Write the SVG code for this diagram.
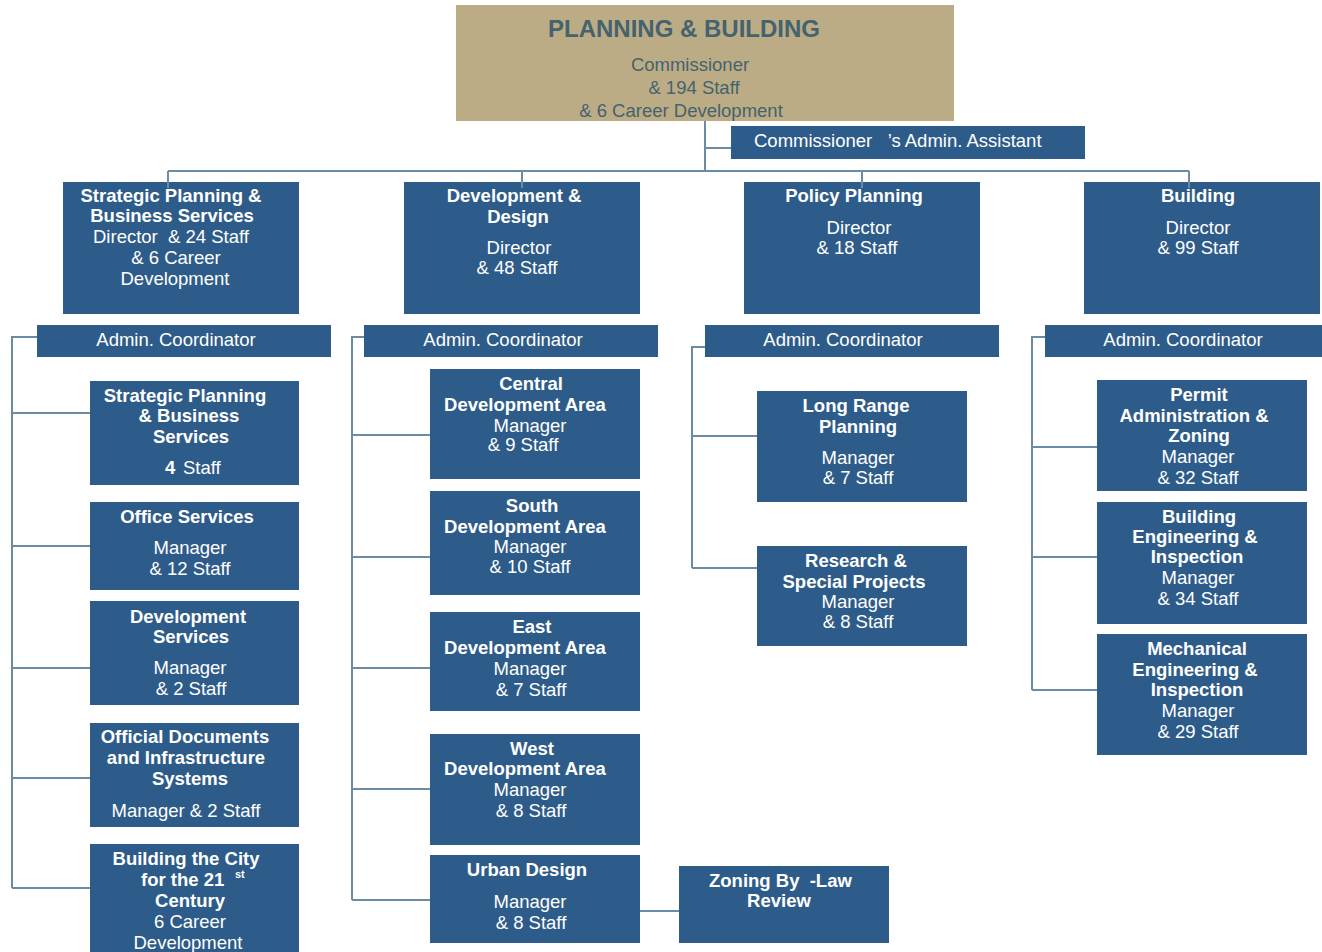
<svg xmlns="http://www.w3.org/2000/svg" width="1322" height="952" viewBox="0 0 1322 952">
<style>
.box{fill:#2E5C8A}
.top{fill:#BBAC85}
.t{font-family:"Liberation Sans",Arial,sans-serif;font-size:18.5px;fill:#ffffff;text-anchor:middle}
.s{text-anchor:start}
.b{font-weight:bold}
.h{fill:#45626F}
.c{fill:none;stroke:#6B8BA4;stroke-width:2}
</style>
<rect width="1322" height="952" fill="#ffffff"/>

<g id="commissioner">
<rect class="top" x="456" y="5" width="498" height="116"/>
<text class="t b h" x="684" y="37" font-size="24" style="font-size:24px">PLANNING &amp; BUILDING</text>
<text class="t h" x="690" y="71">Commissioner</text>
<text class="t h" x="694" y="94">&amp; 194 Staff</text>
<text class="t h" x="681" y="117">&amp; 6 Career Development</text>
</g>

<g id="admin-assistant">
<rect class="box" x="731" y="126" width="354" height="33"/>
<text class="t s" x="754" y="147" xml:space="preserve">Commissioner   ’s Admin. Assistant</text>
</g>

<g id="strategic-planning">
<rect class="box" x="63" y="182" width="236" height="132"/>
<text class="t b" x="171" y="202">Strategic Planning &amp;</text>
<text class="t b" x="172" y="222">Business Services</text>
<text class="t s" x="93" y="243" xml:space="preserve">Director  &amp; 24 Staff</text>
<text class="t" x="176" y="264">&amp; 6 Career</text>
<text class="t" x="175" y="285">Development</text>
</g>

<g id="development-design">
<rect class="box" x="404" y="182" width="236" height="132"/>
<text class="t b" x="514" y="202">Development &amp;</text>
<text class="t b" x="518" y="223">Design</text>
<text class="t" x="519" y="254">Director</text>
<text class="t" x="517" y="274">&amp; 48 Staff</text>
</g>

<g id="policy-planning">
<rect class="box" x="744" y="182" width="236" height="132"/>
<text class="t b" x="854" y="202">Policy Planning</text>
<text class="t" x="859" y="234">Director</text>
<text class="t" x="857" y="254">&amp; 18 Staff</text>
</g>

<g id="building">
<rect class="box" x="1084" y="182" width="236" height="132"/>
<text class="t b" x="1198" y="202">Building</text>
<text class="t" x="1198" y="234">Director</text>
<text class="t" x="1198" y="254">&amp; 99 Staff</text>
</g>

<g id="admin-a">
<rect class="box" x="37" y="325" width="294" height="32"/>
<text class="t" x="176" y="346">Admin. Coordinator</text>
</g>
<g id="admin-b">
<rect class="box" x="364" y="325" width="294" height="32"/>
<text class="t" x="503" y="346">Admin. Coordinator</text>
</g>
<g id="admin-c">
<rect class="box" x="705" y="325" width="294" height="32"/>
<text class="t" x="843" y="346">Admin. Coordinator</text>
</g>
<g id="admin-d">
<rect class="box" x="1045" y="325" width="277" height="32"/>
<text class="t" x="1183" y="346">Admin. Coordinator</text>
</g>

<g id="spbs">
<rect class="box" x="90" y="381" width="209" height="104"/>
<text class="t b" x="185" y="402">Strategic Planning</text>
<text class="t b" x="189" y="422">&amp; Business</text>
<text class="t b" x="191" y="443">Services</text>
<text class="t s" x="165" y="474"><tspan class="b">4</tspan><tspan x="183">Staff</tspan></text>
</g>

<g id="office-services">
<rect class="box" x="90" y="502" width="209" height="88"/>
<text class="t b" x="187" y="523">Office Services</text>
<text class="t" x="190" y="554">Manager</text>
<text class="t" x="190" y="575">&amp; 12 Staff</text>
</g>

<g id="development-services">
<rect class="box" x="90" y="601" width="209" height="104"/>
<text class="t b" x="188" y="623">Development</text>
<text class="t b" x="191" y="643">Services</text>
<text class="t" x="190" y="674">Manager</text>
<text class="t" x="191" y="695">&amp; 2 Staff</text>
</g>

<g id="official-documents">
<rect class="box" x="90" y="723" width="209" height="104"/>
<text class="t b" x="185" y="743">Official Documents</text>
<text class="t b" x="186" y="764">and Infrastructure</text>
<text class="t b" x="190" y="785">Systems</text>
<text class="t" x="186" y="817">Manager &amp; 2 Staff</text>
</g>

<g id="building-city">
<rect class="box" x="90" y="844" width="209" height="116"/>
<text class="t b" x="186" y="865">Building the City</text>
<text class="t b s" x="141" y="886">for the 21<tspan x="235" y="878" style="font-size:11px">st</tspan></text>
<text class="t b" x="190" y="907">Century</text>
<text class="t" x="190" y="928">6 Career</text>
<text class="t" x="188" y="949">Development</text>
</g>

<g id="central">
<rect class="box" x="430" y="369" width="210" height="110"/>
<text class="t b" x="531" y="390">Central</text>
<text class="t b" x="525" y="411">Development Area</text>
<text class="t" x="530" y="432">Manager</text>
<text class="t" x="523" y="451">&amp; 9 Staff</text>
</g>

<g id="south">
<rect class="box" x="430" y="491" width="210" height="104"/>
<text class="t b" x="532" y="512">South</text>
<text class="t b" x="525" y="533">Development Area</text>
<text class="t" x="530" y="553">Manager</text>
<text class="t" x="530" y="573">&amp; 10 Staff</text>
</g>

<g id="east">
<rect class="box" x="430" y="612" width="210" height="99"/>
<text class="t b" x="532" y="633">East</text>
<text class="t b" x="525" y="654">Development Area</text>
<text class="t" x="530" y="675">Manager</text>
<text class="t" x="531" y="696">&amp; 7 Staff</text>
</g>

<g id="west">
<rect class="box" x="430" y="734" width="210" height="111"/>
<text class="t b" x="532" y="755">West</text>
<text class="t b" x="525" y="775">Development Area</text>
<text class="t" x="530" y="796">Manager</text>
<text class="t" x="531" y="817">&amp; 8 Staff</text>
</g>

<g id="urban-design">
<rect class="box" x="430" y="855" width="210" height="88"/>
<text class="t b" x="527" y="876">Urban Design</text>
<text class="t" x="530" y="908">Manager</text>
<text class="t" x="531" y="929">&amp; 8 Staff</text>
</g>

<g id="zoning-bylaw">
<rect class="box" x="679" y="866" width="210" height="77"/>
<text class="t b s" x="709" y="887" xml:space="preserve">Zoning By  -Law</text>
<text class="t b" x="779" y="907">Review</text>
</g>

<g id="long-range">
<rect class="box" x="757" y="391" width="210" height="111"/>
<text class="t b" x="856" y="412">Long Range</text>
<text class="t b" x="858" y="433">Planning</text>
<text class="t" x="858" y="464">Manager</text>
<text class="t" x="858" y="484">&amp; 7 Staff</text>
</g>

<g id="research">
<rect class="box" x="757" y="546" width="210" height="100"/>
<text class="t b" x="856" y="567">Research &amp;</text>
<text class="t b" x="854" y="588">Special Projects</text>
<text class="t" x="858" y="608">Manager</text>
<text class="t" x="858" y="628">&amp; 8 Staff</text>
</g>

<g id="permit">
<rect class="box" x="1097" y="380" width="210" height="111"/>
<text class="t b" x="1199" y="401">Permit</text>
<text class="t b" x="1194" y="422">Administration &amp;</text>
<text class="t b" x="1199" y="442">Zoning</text>
<text class="t" x="1198" y="463">Manager</text>
<text class="t" x="1198" y="484">&amp; 32 Staff</text>
</g>

<g id="building-engineering">
<rect class="box" x="1097" y="502" width="210" height="122"/>
<text class="t b" x="1199" y="523">Building</text>
<text class="t b" x="1195" y="543">Engineering &amp;</text>
<text class="t b" x="1197" y="563">Inspection</text>
<text class="t" x="1198" y="584">Manager</text>
<text class="t" x="1198" y="605">&amp; 34 Staff</text>
</g>

<g id="mechanical">
<rect class="box" x="1097" y="634" width="210" height="121"/>
<text class="t b" x="1197" y="655">Mechanical</text>
<text class="t b" x="1195" y="676">Engineering &amp;</text>
<text class="t b" x="1197" y="696">Inspection</text>
<text class="t" x="1198" y="717">Manager</text>
<text class="t" x="1198" y="738">&amp; 29 Staff</text>
</g>

<g id="connectors">
<path class="c" d="M705 121V171M705 148H731M168 171H1189M168 171V188M522 171V188M862 171V188M1189 171V188"/>
<path class="c" d="M37 337H12V888M12 413H90M12 546H90M12 668H90M12 778H90M12 888H90"/>
<path class="c" d="M364 337H352V900M352 435H430M352 557H430M352 668H430M352 789H430M352 900H430M640 911H679"/>
<path class="c" d="M705 347H692V568M692 436H757M692 568H757"/>
<path class="c" d="M1045 337H1032V690M1032 447H1097M1032 557H1097M1032 690H1097"/>
</g>
</svg>
